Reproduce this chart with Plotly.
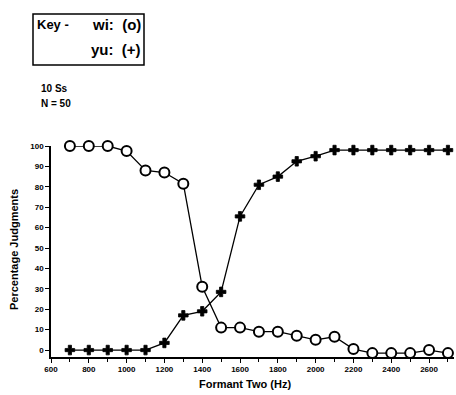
import plotly.graph_objects as go

freq = [700, 800, 900, 1000, 1100, 1200, 1300, 1400, 1500, 1600, 1700,
        1800, 1900, 2000, 2100, 2200, 2300, 2400, 2500, 2600, 2700]
wi = [100, 100, 100, 97.5, 88, 87, 81.5, 31, 11, 11, 9,
      9, 7, 5, 6.5, 0.5, -1.5, -1.5, -1.5, 0, -1.5]
yu = [0, 0, 0, 0, 0, 3.5, 17, 19, 28.5, 65.5, 81,
      85, 92.5, 95, 98, 98, 98, 98, 98, 98, 98]
x_ticks = [600, 800, 1000, 1200, 1400, 1600, 1800, 2000, 2200, 2400, 2600]
y_ticks = [0, 10, 20, 30, 40, 50, 60, 70, 80, 90, 100]

W, H = 456, 395
L, R, T, B = 51, 454, 146, 357

def px(x):
    return (x - L) / (R - L)

def py(y):
    return (B - y) / (B - T)

fig = go.Figure()
fig.add_trace(go.Scatter(
    x=freq, y=wi, mode="lines+markers", name="wi",
    line=dict(color="black", width=1.3),
    marker=dict(symbol="circle", size=10, color="white",
                line=dict(color="black", width=2)),
    cliponaxis=False))
fig.add_trace(go.Scatter(
    x=freq, y=yu, mode="lines+markers", name="yu",
    line=dict(color="black", width=1.3),
    marker=dict(symbol="cross", size=8, color="black",
                line=dict(color="black", width=0.8)),
    cliponaxis=False))

font_fam = "Liberation Sans, Arial, sans-serif"
fig.update_layout(
    width=W, height=H,
    margin=dict(l=L, r=W - R, t=T, b=H - B, pad=0),
    paper_bgcolor="white", plot_bgcolor="white",
    showlegend=False,
    font=dict(family=font_fam, color="black"),
    xaxis=dict(range=[600, 2732], tickvals=x_ticks, ticktext=[str(v) for v in x_ticks],
               showgrid=False, zeroline=False, showline=True, linecolor="black",
               linewidth=1.5, ticks="outside", ticklen=4, tickwidth=1.2, tickcolor="black",
               minor=dict(dtick=100, tick0=600, ticks="outside", ticklen=3,
                          tickwidth=1, tickcolor="black"),
               tickfont=dict(size=8, weight="bold", family=font_fam)),
    yaxis=dict(range=[-3.4, 100], tickvals=y_ticks, ticktext=[str(v) for v in y_ticks],
               showgrid=False, zeroline=False, showline=True, linecolor="black",
               linewidth=1.5, ticks="outside", ticklen=4, tickwidth=1.2, tickcolor="black",
               tickfont=dict(size=8, weight="bold", family=font_fam)),
)

# Key box
fig.add_shape(type="rect", xref="paper", yref="paper",
              x0=px(33), x1=px(144), y0=py(65), y1=py(14),
              line=dict(color="black", width=1.5), fillcolor="rgba(0,0,0,0)")
fig.add_annotation(xref="paper", yref="paper", x=px(35), y=py(24),
                   xanchor="left", yanchor="middle", showarrow=False,
                   text="Key -",
                   font=dict(size=13, weight="bold", family=font_fam))
fig.add_annotation(xref="paper", yref="paper", x=px(143), y=py(24),
                   xanchor="right", yanchor="middle", showarrow=False,
                   text="wi:  (o)",
                   font=dict(size=15, weight="bold", family=font_fam))
fig.add_annotation(xref="paper", yref="paper", x=px(143), y=py(50),
                   xanchor="right", yanchor="middle", showarrow=False,
                   text="yu:  (+)",
                   font=dict(size=15, weight="bold", family=font_fam))
fig.add_annotation(xref="paper", yref="paper", x=px(39), y=py(88),
                   xanchor="left", yanchor="middle", showarrow=False,
                   text="10 Ss", font=dict(size=10, weight="bold", family=font_fam))
fig.add_annotation(xref="paper", yref="paper", x=px(39), y=py(104),
                   xanchor="left", yanchor="middle", showarrow=False,
                   text="N = 50", font=dict(size=10, weight="bold", family=font_fam))
# axis titles
fig.add_annotation(xref="paper", yref="paper", x=px(245), y=py(384),
                   xanchor="center", yanchor="middle", showarrow=False,
                   text="Formant Two (Hz)", font=dict(size=11, weight="bold", family=font_fam))
fig.add_annotation(xref="paper", yref="paper", x=px(14), y=py(250),
                   xanchor="center", yanchor="middle", showarrow=False, textangle=-90,
                   text="Percentage Judgments", font=dict(size=11, weight="bold", family=font_fam))

fig.write_html("out.html")
